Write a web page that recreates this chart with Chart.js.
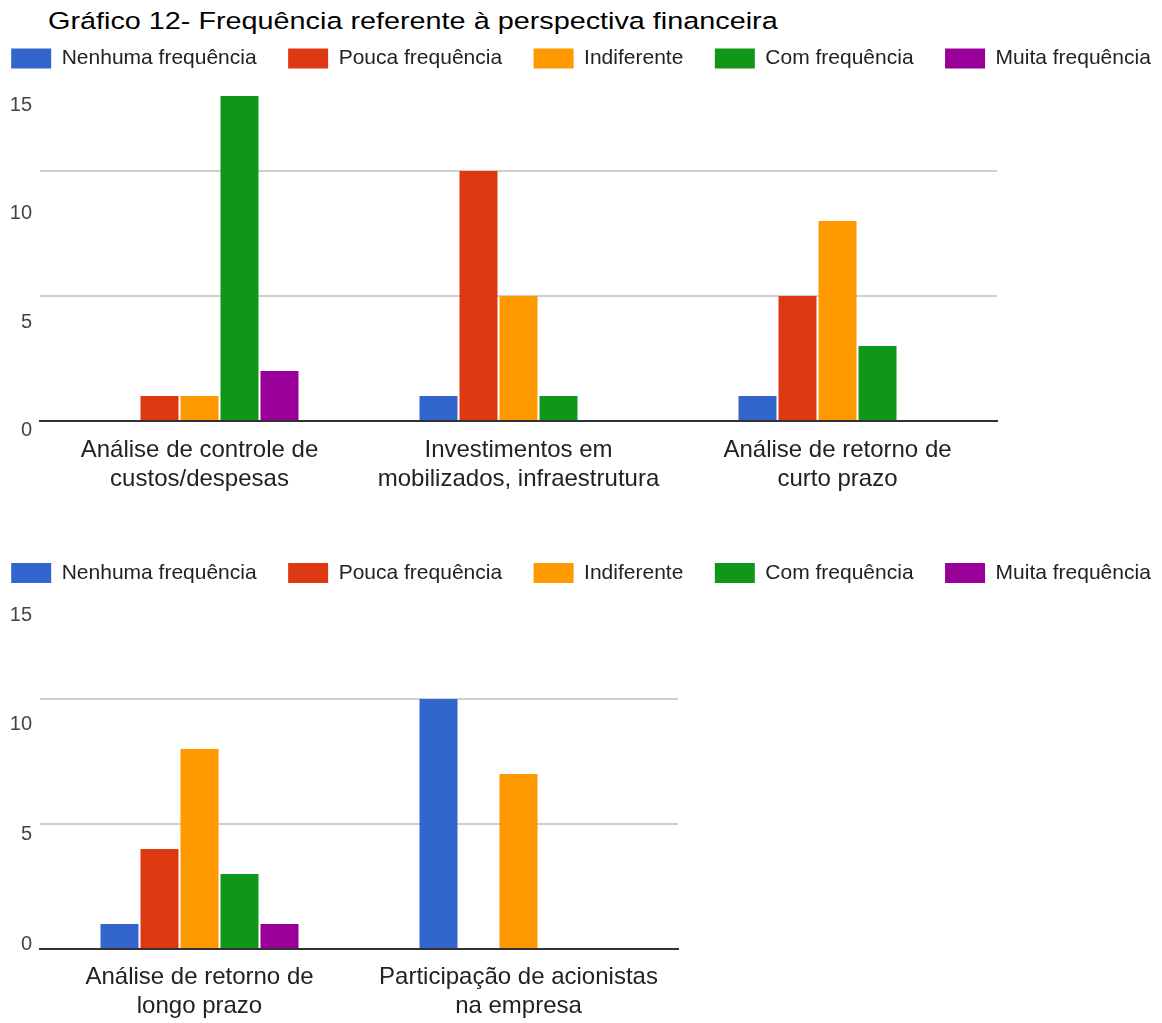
<!DOCTYPE html>
<html><head><meta charset="utf-8">
<script src="https://cdn.jsdelivr.net/npm/chart.js@4.4.1/dist/chart.umd.min.js"></script>
<style>
html,body{margin:0;padding:0;background:#fff;overflow:hidden;width:1162px;height:1023px;position:relative}
#title{position:absolute;left:48px;top:8.6px;font:24.5px/1 "Liberation Sans",Arial,sans-serif;color:#000;white-space:nowrap;transform:scaleX(1.175);transform-origin:0 0}
canvas{position:absolute;left:-30px}
#c1{top:0}
#c2{top:505px}
</style></head><body>
<div id="title">Gráfico 12- Frequência referente à perspectiva financeira</div>
<canvas id="c1" width="1222" height="505"></canvas>
<canvas id="c2" width="1222" height="518"></canvas>
<script>
// ---- data ----
const seriesNames = ['Nenhuma frequência', 'Pouca frequência', 'Indiferente', 'Com frequência', 'Muita frequência'];
const seriesColors = ['#3366cc', '#dc3912', '#ff9900', '#109618', '#990099'];

const topCategories = [
  ['Análise de controle de', 'custos/despesas'],
  ['Investimentos em', 'mobilizados, infraestrutura'],
  ['Análise de retorno de', 'curto prazo']
];
const topNenhuma     = [0, 1, 1];
const topPouca       = [1, 10, 5];
const topIndiferente = [1, 5, 8];
const topCom         = [13, 1, 3];
const topMuita       = [2, 0, 0];

const bottomCategories = [
  ['Análise de retorno de', 'longo prazo'],
  ['Participação de acionistas', 'na empresa']
];
const bottomNenhuma     = [1, 10];
const bottomPouca       = [4, 0];
const bottomIndiferente = [8, 7];
const bottomCom         = [3, 0];
const bottomMuita       = [1, 0];

const yTickValues = [0, 5, 10, 15];

// ---- drawing ----
const regular = "'Liberation Sans', Arial, sans-serif";

function makeChart(canvas, categories, seriesValues, cfg) {
  return new Chart(canvas, {
    type: 'bar',
    data: {
      labels: categories,
      datasets: seriesValues.map((vals, i) => ({
        label: seriesNames[i],
        data: vals,
        backgroundColor: seriesColors[i],
        borderWidth: 0,
        barPercentage: 0.95,
        categoryPercentage: 0.627,
        yAxisID: 'y'
      }))
    },
    options: {
      responsive: false,
      animation: false,
      devicePixelRatio: 1,
      layout: { padding: { top: cfg.padTop, left: 0, right: 0, bottom: 0 } },
      plugins: {
        tooltip: { enabled: false },
        legend: {
          position: 'top',
          align: 'center',
          labels: {
            boxWidth: 40, boxHeight: 20, padding: 31.5, color: '#222',
            font: { family: regular, size: 21 }
          }
        }
      },
      scales: {
        x: {
          grid: { display: false, drawTicks: false },
          border: { display: true, color: '#333', width: 2 },
          ticks: {
            color: '#222', padding: cfg.xPad, maxRotation: 0, minRotation: 0, autoSkip: false,
            font: { family: regular, size: 24, lineHeight: 1.2 }
          },
          afterFit: s => { s.height = cfg.xHeight; }
        },
        y: {
          position: 'left', min: 0, max: cfg.barMax,
          grid: { color: '#cfcfcf', lineWidth: 2, drawTicks: false },
          border: { display: false },
          ticks: { display: false, stepSize: 5, includeBounds: false },
          afterFit: s => { s.width = 0; }
        },
        yLabels: {
          type: 'linear', position: 'left', min: cfg.labelMin, max: cfg.labelMax,
          grid: { display: false, drawTicks: false },
          border: { display: false },
          ticks: { color: '#444', padding: 8, font: { family: regular, size: 20 } },
          afterBuildTicks: s => { s.ticks = yTickValues.map(v => ({ value: v })); },
          afterFit: s => { s.width = 70; }
        },
        yRight: {
          type: 'linear', position: 'right',
          grid: { display: false, drawTicks: false },
          border: { display: false },
          ticks: { display: false },
          afterFit: s => { s.width = cfg.rightWidth; }
        }
      }
    }
  });
}

makeChart(document.getElementById('c1'), topCategories,
  [topNenhuma, topPouca, topIndiferente, topCom, topMuita],
  { padTop: 16.5, xHeight: 84, xPad: 15, barMax: 13.68, labelMin: 0.438, labelMax: 16.22, rightWidth: 195 });

makeChart(document.getElementById('c2'), bottomCategories,
  [bottomNenhuma, bottomPouca, bottomIndiferente, bottomCom, bottomMuita],
  { padTop: 26, xHeight: 74, xPad: 14, barMax: 14.22, labelMin: -0.228, labelMax: 15.983, rightWidth: 514 });
</script>
</body></html>
